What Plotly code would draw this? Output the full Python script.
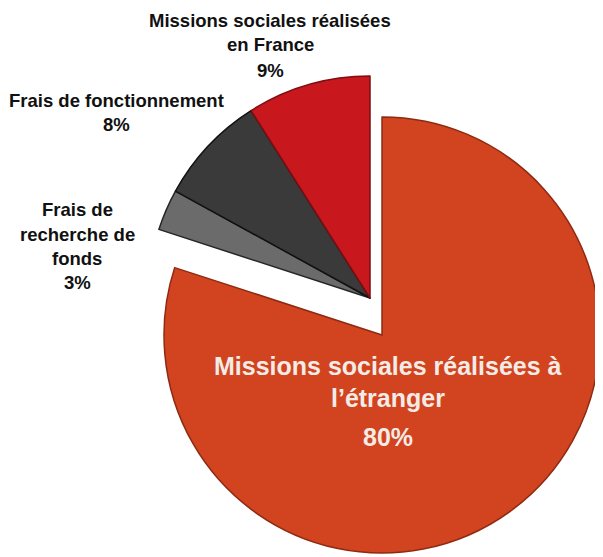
import plotly.graph_objects as go

# ---- data ----
categories = [
    "Missions sociales réalisées à l’étranger",
    "Frais de recherche de fonds",
    "Frais de fonctionnement",
    "Missions sociales réalisées en France",
]
values = [80, 3, 8, 9]
label_lines = [
    ["Missions sociales réalisées à", "l’étranger"],
    ["Frais de", "recherche de", "fonds"],
    ["Frais de fonctionnement"],
    ["Missions sociales réalisées", "en France"],
]
colors = ["#D1441F", "#6B6B6B", "#3A3A3A", "#C9171E"]
edge_colors = ["#8E2A12", "#262626", "#121212", "#7D0E12"]

W, H = 603, 557
OFF = 8  # page body margin


def fx(px):
    return (px - OFF) / W


def fy(py):
    return 1 - (py - OFF) / H


TRANSPARENT = "rgba(0,0,0,0)"
# the large slice is drawn detached from the three small ones
groups = [
    dict(show=[True, False, False, False], cx=382, cy=335, r=218),
    dict(show=[False, True, True, True], cx=370, cy=298, r=222),
]

fig = go.Figure()
for g in groups:
    fc = [c if s else TRANSPARENT for c, s in zip(colors, g["show"])]
    lc = [c if s else TRANSPARENT for c, s in zip(edge_colors, g["show"])]
    fig.add_trace(go.Pie(
        labels=categories,
        values=values,
        sort=False,
        direction="clockwise",
        rotation=0,
        marker=dict(colors=fc, line=dict(color=lc, width=1.5)),
        textinfo="none",
        hoverinfo="label+percent",
        domain=dict(
            x=[fx(g["cx"] - g["r"]), fx(g["cx"] + g["r"])],
            y=[fy(g["cy"] + g["r"]), fy(g["cy"] - g["r"])],
        ),
        showlegend=False,
    ))

# label placement (pixel centers, line spacing, font size, colour)
label_layout = [
    dict(cx=388, y0=366, dy=32, pct_dy=39, size=25, color="#F3ECE6"),
    dict(cx=77, y0=210, dy=24, pct_dy=24, size=18.5, color="#111111"),
    dict(cx=116, y0=100, dy=25, pct_dy=25, size=18.5, color="#111111"),
    dict(cx=270, y0=20, dy=25, pct_dy=25, size=18.5, color="#111111"),
]

annotations = []
for lines, v, lay in zip(label_lines, values, label_layout):
    y = lay["y0"]
    texts = list(lines)
    for i, t in enumerate(texts + [f"{v}%"]):
        if i > 0:
            y += lay["pct_dy"] if i == len(texts) else lay["dy"]
        annotations.append(dict(
            x=fx(lay["cx"]), y=fy(y), xref="paper", yref="paper",
            text=f"<b>{t}</b>", showarrow=False,
            xanchor="center", yanchor="middle",
            font=dict(family="Liberation Sans, Arial, sans-serif",
                      size=lay["size"], color=lay["color"]),
        ))

fig.update_layout(
    width=W, height=H,
    margin=dict(l=0, r=0, t=0, b=0),
    paper_bgcolor="white",
    plot_bgcolor="white",
    annotations=annotations,
)

fig.write_html("out.html")
